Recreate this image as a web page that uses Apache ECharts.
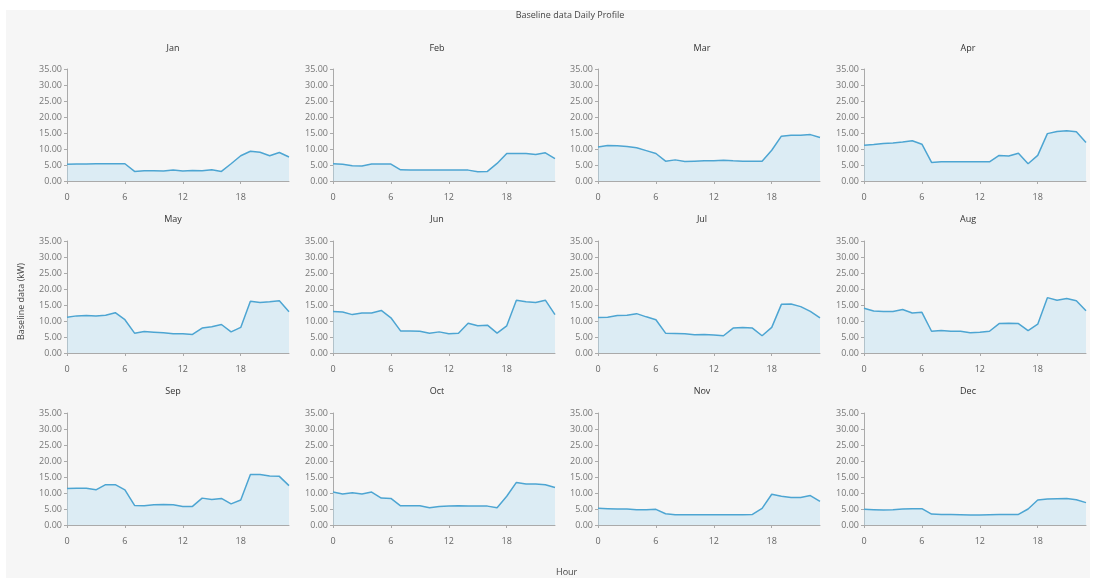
<!DOCTYPE html>
<html>
<head>
<meta charset="utf-8">
<script src="https://cdn.jsdelivr.net/npm/echarts@6/dist/echarts.min.js"></script>
<style>
  html, body { margin: 0; padding: 0; background: #ffffff; }
  #bg { position: absolute; left: 6px; top: 10px; width: 1084px; height: 568px; background: #f6f6f6; }
  #chart { position: absolute; left: 0; top: 0; width: 1096px; height: 581px; }
</style>
</head>
<body>
<div id="bg"></div>
<div id="chart"></div>
<script>
// hours of the day
var hours = [0,1,2,3,4,5,6,7,8,9,10,11,12,13,14,15,16,17,18,19,20,21,22,23];
var monthNames = ["Jan","Feb","Mar","Apr","May","Jun","Jul","Aug","Sep","Oct","Nov","Dec"];
var xTicks = [0, 6, 12, 18];

// baseline data (kW)
var jan = [5.2,5.3,5.3,5.4,5.4,5.4,5.4,3.0,3.2,3.2,3.1,3.4,3.1,3.3,3.2,3.5,3.0,5.4,7.9,9.3,9.0,7.9,8.9,7.5];
var feb = [5.4,5.2,4.8,4.7,5.3,5.3,5.3,3.5,3.4,3.4,3.4,3.4,3.4,3.4,3.4,2.9,3.0,5.5,8.6,8.6,8.6,8.3,8.8,7.0];
var mar = [10.6,11.1,11.0,10.8,10.4,9.5,8.6,6.2,6.6,6.1,6.2,6.3,6.3,6.5,6.3,6.2,6.2,6.2,9.6,14.0,14.3,14.3,14.5,13.6];
var apr = [11.2,11.4,11.7,11.9,12.2,12.6,11.5,5.8,6.0,6.0,6.0,6.0,6.0,6.0,8.0,7.8,8.7,5.4,8.0,14.8,15.5,15.7,15.4,12.0];
var may = [11.2,11.6,11.7,11.6,11.8,12.6,10.4,6.2,6.7,6.5,6.3,6.0,6.0,5.8,7.8,8.2,8.9,6.6,8.0,16.2,15.8,16.0,16.3,12.9];
var jun = [13.0,12.8,12.0,12.5,12.5,13.3,11.0,6.9,6.9,6.8,6.2,6.6,6.0,6.2,9.3,8.5,8.7,6.2,8.5,16.5,16.0,15.8,16.5,12.0];
var jul = [11.1,11.2,11.7,11.8,12.3,11.3,10.4,6.2,6.1,6.0,5.7,5.8,5.6,5.4,7.8,8.0,7.8,5.4,8.0,15.2,15.3,14.5,13.0,11.0];
var aug = [14.0,13.1,13.0,13.0,13.6,12.5,12.7,6.8,7.0,6.8,6.8,6.3,6.5,6.8,9.2,9.3,9.2,7.0,9.0,17.3,16.5,17.0,16.3,13.2];
var sep = [11.4,11.5,11.5,11.0,12.6,12.6,11.0,6.1,6.0,6.3,6.4,6.3,5.8,5.8,8.4,8.0,8.3,6.6,7.8,15.8,15.8,15.3,15.2,12.3];
var oct = [10.3,9.7,10.1,9.7,10.3,8.4,8.3,6.0,6.0,6.0,5.4,5.8,5.9,6.0,5.9,5.9,5.9,5.4,9.0,13.3,12.8,12.8,12.6,11.7];
var nov = [5.2,5.1,5.0,5.0,4.8,4.8,4.9,3.5,3.2,3.2,3.2,3.2,3.2,3.2,3.2,3.2,3.3,5.2,9.6,9.0,8.6,8.6,9.2,7.4];
var dec = [4.9,4.8,4.7,4.8,5.0,5.1,5.1,3.4,3.3,3.3,3.2,3.1,3.1,3.2,3.3,3.3,3.3,5.0,7.8,8.1,8.2,8.3,7.9,7.0];
var monthData = [jan, feb, mar, apr, may, jun, jul, aug, sep, oct, nov, dec];

var chart = echarts.init(document.getElementById("chart"));

var colLeft = [67, 333, 598, 864];
var rowTop = [69, 241, 413];
var titleX = [168, 432, 697, 963];
var titleY = [39, 210, 382];
var plotW = 222, plotH = 112;
var fontFam = "'Open Sans', 'Noto Sans', sans-serif";

var grids = [], xAxes = [], yAxes = [], series = [];
var titles = [{
    text: "Baseline data Daily Profile",
    left: 565, top: 6, textAlign: "center",
    textStyle: { fontSize: 9, fontWeight: "normal", color: "#444", fontFamily: fontFam }
}];

for (var i = 0; i < 12; i++) {
    var r = Math.floor(i / 4), c = i % 4;
    grids.push({ left: colLeft[c], top: rowTop[r], width: plotW, height: plotH });
    titles.push({
        text: monthNames[i], left: titleX[c], top: titleY[r], textAlign: "center",
        textStyle: { fontSize: 9, fontWeight: "normal", color: "#333", fontFamily: fontFam }
    });
    xAxes.push({
        type: "value", gridIndex: i, min: 0, max: 23, interval: 6,
        axisLine: { show: true, lineStyle: { color: "#aaa", width: 1 } },
        axisTick: { show: true, length: 3, lineStyle: { color: "#aaa" } },
        splitLine: { show: false },
        axisLabel: {
            color: "#666", fontSize: 9, fontFamily: fontFam, margin: 12,
            showMaxLabel: false,
            formatter: function (v) { return xTicks.indexOf(v) >= 0 ? String(v) : ""; }
        }
    });
    yAxes.push({
        type: "value", gridIndex: i, min: 0, max: 35, interval: 5,
        axisLine: { show: true, lineStyle: { color: "#aaa", width: 1 } },
        axisTick: { show: true, length: 3, lineStyle: { color: "#aaa" } },
        splitLine: { show: false },
        axisLabel: {
            color: "#777", fontSize: 9, fontFamily: fontFam, margin: 5,
            formatter: function (v) { return v.toFixed(2); }
        }
    });
    series.push({
        type: "line", xAxisIndex: i, yAxisIndex: i,
        data: hours.map(function (h, k) { return [h, monthData[i][k]]; }),
        showSymbol: false, symbol: "none", smooth: false,
        lineStyle: { color: "#4da5d2", width: 1.5 },
        areaStyle: { color: "rgba(190,224,242,0.65)" },
        silent: true, animation: false
    });
}

var option = {
    backgroundColor: "transparent",
    animation: false,
    title: titles,
    grid: grids,
    xAxis: xAxes,
    yAxis: yAxes,
    series: series,
    graphic: [
        { type: "text", left: 556, top: 568,
          style: { text: "Hour", fontSize: 9, fill: "#444", fontFamily: fontFam } },
        { type: "text", x: 17, y: 340, rotation: Math.PI / 2,
          style: { text: "Baseline data (kW)", fontSize: 9, fill: "#444", fontFamily: fontFam } }
    ]
};
chart.setOption(option);
</script>
</body>
</html>
